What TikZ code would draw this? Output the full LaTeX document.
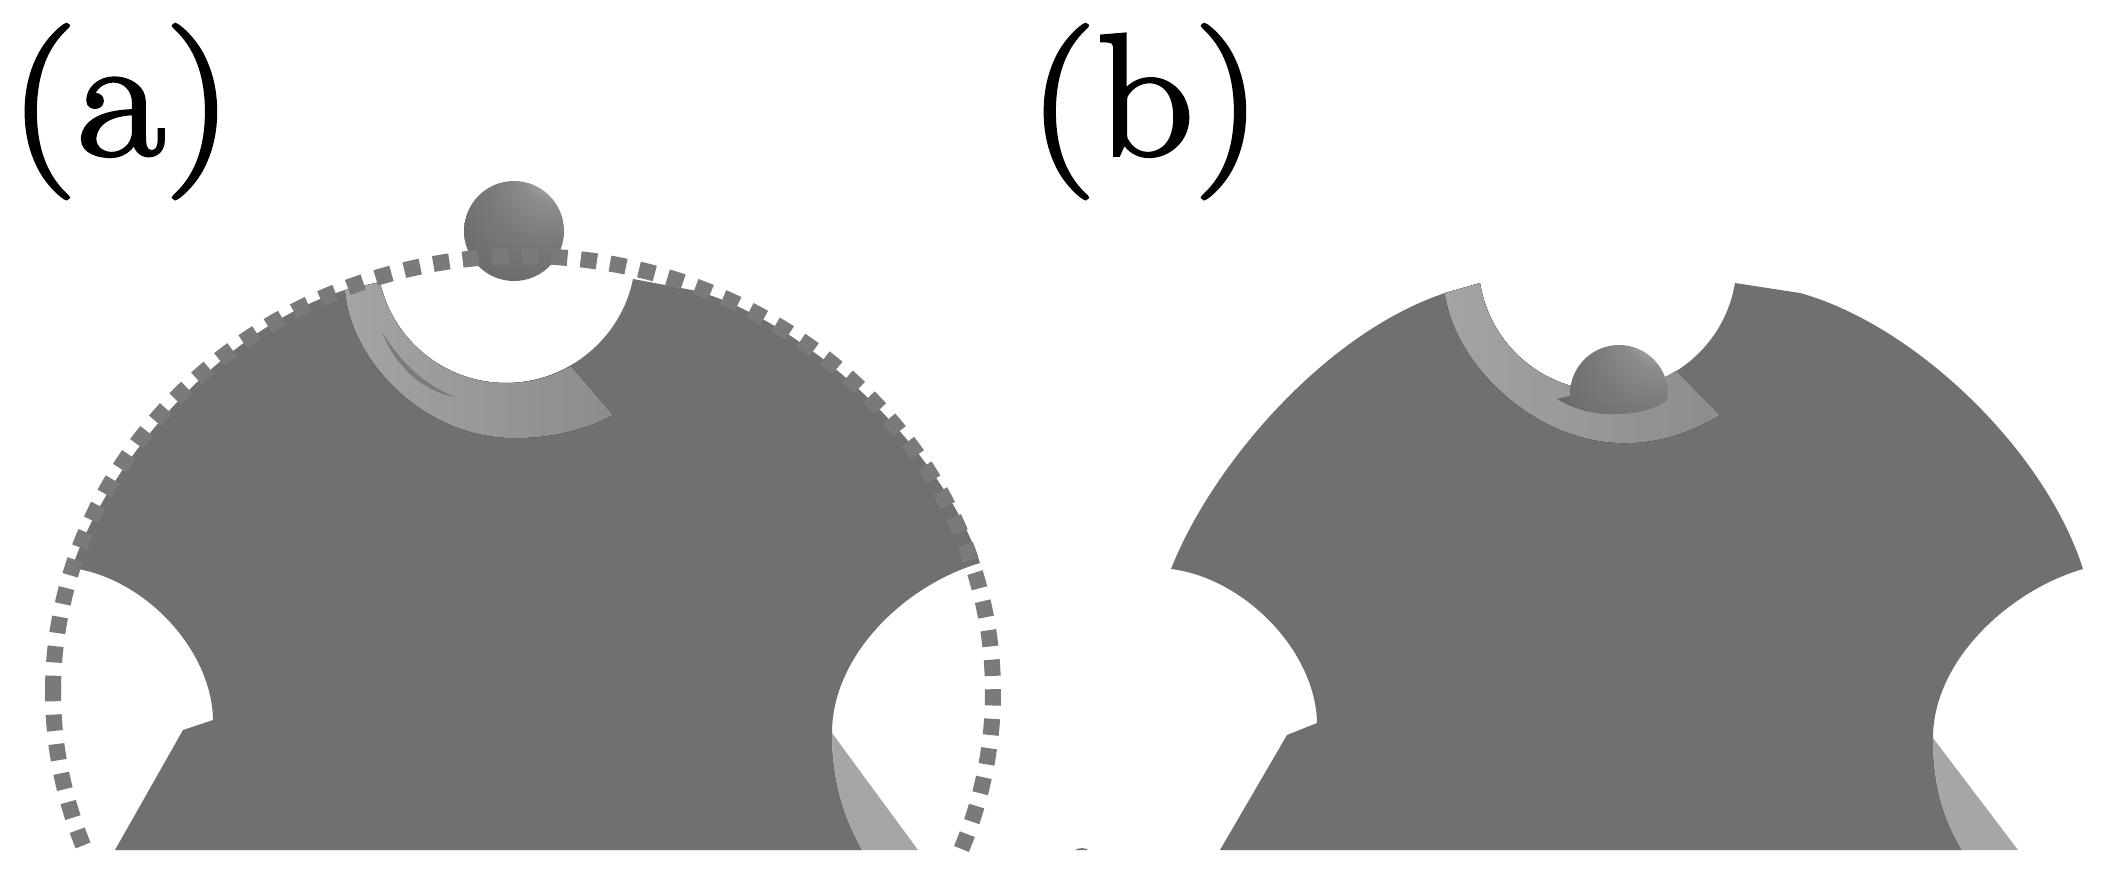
\documentclass[tikz,border=0pt]{standalone}
\usepackage{fontspec}
\newfontfamily\labelfont{Latin Modern Roman}[FakeBold=2]
\definecolor{ballhi}{HTML}{B0B0B0}
\definecolor{ballmid}{HTML}{8C8C8C}
\definecolor{ballmidd}{HTML}{787878}
\definecolor{balldk}{HTML}{686868}
\definecolor{bodygray}{HTML}{707070}
\definecolor{dotgray}{HTML}{7A7A7A}
\definecolor{bandL}{HTML}{A4A4A4}
\definecolor{bandR}{HTML}{8C8C8C}
\definecolor{tipgray}{HTML}{A6A6A6}
\pgfdeclareradialshading{ballsh}{\pgfpoint{23bp}{33bp}}{
  color(0bp)=(ballhi); color(6bp)=(ballhi); color(15bp)=(ballmid); color(30bp)=(ballmidd); color(52bp)=(balldk); color(100bp)=(balldk)}
\begin{document}
\begin{tikzpicture}[x=1pt,y=-1pt,
  labeltext/.style={inner sep=0pt,anchor=base,xscale=1.1,font=\labelfont\fontsize{174}{174}\selectfont,text=black},
  bodyfill/.style={fill=bodygray,draw=none},
  bandfill/.style={left color=bandL,right color=bandR,draw=none},
  sidefill/.style={fill=tipgray,draw=none},
  ballfill/.style={shading=ballsh,draw=none},
  dotted ring/.style={draw=dotgray,line width=16pt,dash pattern=on 16.3pt off 13.3pt,line cap=butt}]
\useasboundingbox (0,0) rectangle (2106,873);
\fill[white] (0,0) rectangle (2106,873);
% ---------- panel (a)
\fill[bodyfill]
  (115,850) -- (183,730) -- (213,720)
  .. controls (212,650) and (145,578) .. (72,568)
  .. controls (108,462) and (222,328) .. (345,290)
  -- (380,282)
  .. controls (393,341) and (445.5,383) .. (506,383)
  .. controls (566.5,383) and (621,339.4) .. (633,279)
  -- (697,291)
  .. controls (812,325) and (942,450) .. (980,563)
  .. controls (905,585) and (832,655) .. (832,733)
  .. controls (832,780) and (843,815) .. (862,850)
  -- cycle;
\fill[bandfill]
  (345,290)
  .. controls (350,360) and (425,440) .. (517,438)
  .. controls (552,438) and (585,430) .. (613,415)
  -- (571,366)
  .. controls (551.5,377.2) and (528.5,383) .. (506,383)
  .. controls (445.5,383) and (393,341) .. (380,282)
  -- cycle;
\fill[fill=dotgray]
  (382,332) .. controls (398,358) and (420,383) .. (455,397)
  .. controls (425,392) and (396,368) .. (382,332) -- cycle;
\fill[sidefill]
  (832,733) -- (918,850) -- (862,850)
  .. controls (843,815) and (832,780) .. (832,733) -- cycle;
\shade[ballfill] (514,231) circle[radius=50];
\draw[dotted ring] plot[domain=180:-21.1,samples=360] ({523+470*cos(\x)},{692-436*sin(\x)});
\draw[dotted ring] plot[domain=179.08:201,samples=60] ({523+470*cos(\x)},{692-436*sin(\x)});
% ---------- panel (b)
\fill[bodyfill]
  (1220,850) -- (1287,735) -- (1317,723)
  .. controls (1316,652) and (1245,578) .. (1171,569)
  .. controls (1212,465) and (1325,333) .. (1445,293)
  -- (1480,283)
  .. controls (1490.3,345.5) and (1543.7,391) .. (1607,391)
  .. controls (1670.3,391) and (1724.7,345.5) .. (1735,283)
  -- (1800,293)
  .. controls (1915,325) and (2045,450) .. (2083,569)
  .. controls (2010,590) and (1933,660) .. (1933,738)
  .. controls (1933,785) and (1943,818) .. (1962,850)
  -- cycle;
\fill[bandfill]
  (1445,293)
  .. controls (1453,362) and (1535,445) .. (1627,443)
  .. controls (1660,443) and (1692,432) .. (1720,415)
  -- (1676.2,370.8)
  .. controls (1655.5,384) and (1631.5,391) .. (1607,391)
  .. controls (1543.7,391) and (1490.3,345.5) .. (1480,283)
  -- cycle;
\fill[sidefill]
  (1933,738) -- (2018,850) -- (1962,850)
  .. controls (1943,818) and (1933,785) .. (1933,738) -- cycle;
\fill[fill=balldk]
  (1557,399) .. controls (1572,408) and (1590,414) .. (1612,414)
  .. controls (1630,414) and (1650,412) .. (1667,400)
  -- (1570,396) .. controls (1565,397) and (1561,398) .. (1557,399) -- cycle;
\begin{scope}
  \clip (1570,394) .. controls (1570,367) and (1592,345) .. (1619,345)
    .. controls (1646,345) and (1668,367) .. (1668,394)
    -- (1667,400) .. controls (1650,412) and (1630,414) .. (1612,414)
    .. controls (1595,414) and (1582,410) .. (1570,404) -- cycle;
  \shade[ballfill] (1619,394) circle[radius=50];
\end{scope}
\fill[bodyfill] (1075,850) .. controls (1079,847.5) and (1085,847.5) .. (1088,850) -- cycle;
% ---------- labels
\node[labeltext] (labela) at (121,155) {(a)};
\node[labeltext] (labelb) at (1145,155) {(b)};
\end{tikzpicture}
\end{document}
